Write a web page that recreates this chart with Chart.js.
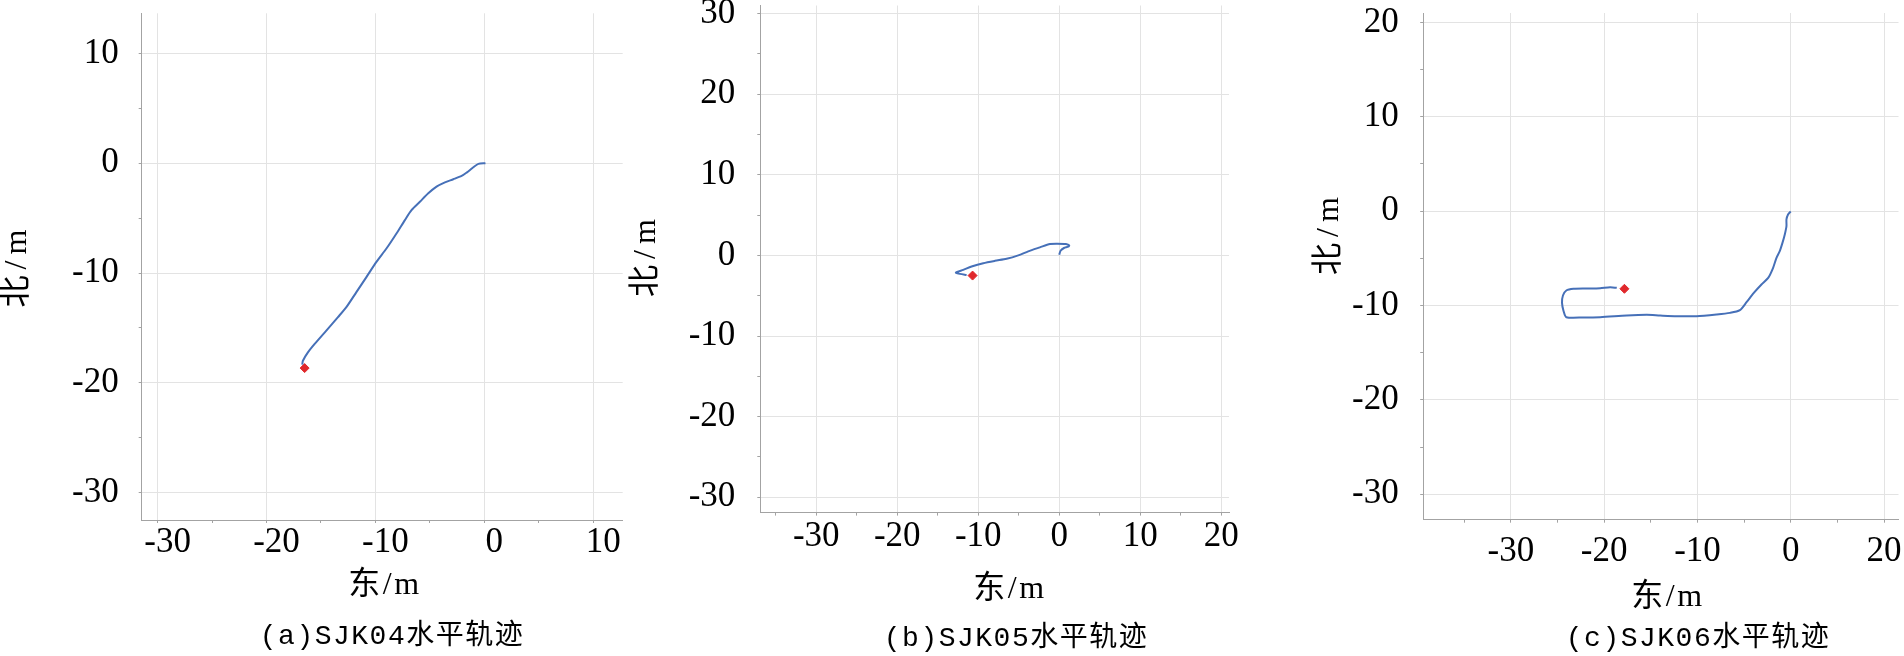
<!DOCTYPE html>
<html>
<head>
<meta charset="utf-8">
<script src="https://cdn.jsdelivr.net/npm/chart.js@4.4.1/dist/chart.umd.min.js"></script>
<style>
    html, body { margin: 0; padding: 0; background: #fff; }
    #wrap { position: relative; width: 1904px; height: 656px; overflow: hidden; }
    canvas { position: absolute; left: 0; top: 0; }
</style>
</head>
<body>
<div id="wrap">
    <canvas id="panelA" width="1904" height="656"></canvas>
    <canvas id="panelB" width="1904" height="656"></canvas>
    <canvas id="panelC" width="1904" height="656"></canvas>
</div>
<script>
// ========================================
// DATA (east / north in metres)
// ========================================
const trackAEast  = [0.1, -0.55, -1.01, -1.63, -2.09, -2.85, -3.62, -4.39, -5.15, -5.92, -6.69, -7.30, -8.07, -8.99, -9.91, -10.83, -11.75, -12.67, -13.44, -14.51, -15.58, -16.20, -16.66, -16.72];
const trackANorth = [0, -0.06, -0.37, -0.85, -1.16, -1.46, -1.74, -2.13, -2.74, -3.51, -4.27, -5.18, -6.40, -7.77, -8.99, -10.37, -11.74, -13.11, -14.02, -15.24, -16.46, -17.23, -17.99, -18.35];
const endA = [-16.5, -18.66];

const trackBEast  = [0, 0.16, 0.58, 1.11, 1.23, 0.82, -0.25, -1.15, -2.39, -3.83, -5.06, -6.50, -7.94, -9.38, -10.82, -11.85, -12.76, -12.26, -11.44];
const trackBNorth = [0.08, 0.58, 0.92, 1.08, 1.25, 1.42, 1.46, 1.42, 1.00, 0.50, 0, -0.42, -0.67, -0.96, -1.38, -1.79, -2.13, -2.29, -2.42];
const endB = [-10.7, -2.5];

const trackCEast  = [0, -0.29, -0.46, -0.46, -0.64, -0.89, -1.18, -1.53, -1.89, -2.42, -3.14, -3.96, -4.74, -5.45, -6.52, -7.95, -10.09, -12.23, -14.00, -15.44, -17.58, -20.43, -22.21, -24.06, -24.35, -24.52, -24.42, -24.06, -23.28, -21.85, -20.43, -19.36, -18.65];
const trackCNorth = [-0.04, -0.35, -0.88, -1.59, -2.47, -3.36, -4.24, -4.95, -6.00, -7.07, -7.77, -8.66, -9.65, -10.49, -10.78, -10.95, -11.13, -11.13, -11.06, -10.99, -11.06, -11.24, -11.27, -11.24, -10.60, -9.72, -8.94, -8.41, -8.23, -8.20, -8.16, -8.06, -8.13];
const endC = [-17.83, -8.23];

// major ticks and their labels
const xTicksA = [-30, -20, -10, 0, 10];
const xLabelsA = ['-30', '-20', '-10', '0', '10'];
const yTicksA = [-30, -20, -10, 0, 10];
const yLabelsA = ['-30', '-20', '-10', '0', '10'];

const xTicksB = [-30, -20, -10, 0, 10, 20];
const xLabelsB = ['-30', '-20', '-10', '0', '10', '20'];
const yTicksB = [-30, -20, -10, 0, 10, 20, 30];
const yLabelsB = ['-30', '-20', '-10', '0', '10', '20', '30'];

const xTicksC = [-30, -20, -10, 0, 10];
const xLabelsC = ['-30', '-20', '-10', '0', '20'];
const yTicksC = [-30, -20, -10, 0, 10, 20];
const yLabelsC = ['-30', '-20', '-10', '0', '10', '20'];

const xTitle = '东/m';
const yTitle = '北/m';
const captions = ['(a)SJK04水平轨迹', '(b)SJK05水平轨迹', '(c)SJK06水平轨迹'];

// ========================================
// STYLE
// ========================================
const LINE_COLOR = '#4670b8';
const END_COLOR = '#e0282c';
const GRID_COLOR = '#e3e3e3';
const AXIS_COLOR = '#a3a3a3';
const TICK_FONT = { family: '"Liberation Serif", "Times New Roman", serif', size: 35 };
const TITLE_FONT = '32px "Liberation Serif", "Noto Sans CJK SC"';
const CAPTION_FONT = '28px "Liberation Mono", "Noto Sans CJK SC"';
const Y_SCALE_WIDTH = 100;
const X_SCALE_HEIGHT = 60;

// draws axis titles and caption at fixed page positions
const panelText = {
    id: 'panelText',
    afterDraw(chart, args, opts) {
        const ctx = chart.ctx;
        ctx.save();
        ctx.fillStyle = '#000';
        ctx.textAlign = 'center';
        ctx.textBaseline = 'middle';
        opts.items.forEach(item => {
            ctx.save();
            ctx.font = item.font;
            if ('letterSpacing' in ctx) ctx.letterSpacing = item.spacing || '0px';
            ctx.translate(item.x, item.y);
            if (item.rotate) ctx.rotate(item.rotate);
            ctx.fillText(item.text, 0, 0);
            ctx.restore();
        });
        ctx.restore();
    }
};

function toPoints(east, north) {
    return east.map((e, i) => ({ x: e, y: north[i] }));
}

function findTick(list, value) {
    return list.findIndex(t => Math.abs(t - value) < 1e-6);
}

function makeScale(ticksList, labels, range, opts) {
    return {
        type: 'linear',
        min: range[0],
        max: range[1],
        afterFit(scale) {
            if (scale.isHorizontal()) scale.height = X_SCALE_HEIGHT; else scale.width = Y_SCALE_WIDTH;
            scale.paddingLeft = 0;
            scale.paddingRight = 0;
            scale.paddingTop = 0;
            scale.paddingBottom = 0;
        },
        border: { display: true, color: AXIS_COLOR, width: 1 },
        grid: {
            color: (c) => findTick(ticksList, c.tick.value) >= 0 ? GRID_COLOR : 'rgba(0,0,0,0)',
            tickColor: AXIS_COLOR,
            tickLength: 3,
            lineWidth: 1
        },
        ticks: {
            stepSize: 5,
            includeBounds: false,
            autoSkip: false,
            maxRotation: 0,
            color: '#000',
            font: TICK_FONT,
            padding: opts.padding,
            labelOffset: opts.labelOffset || 0,
            callback: (value) => {
                const i = findTick(ticksList, value);
                return i >= 0 ? labels[i] : '';
            }
        }
    };
}

function createPanel(id, p) {
    const a = p.area;
    new Chart(document.getElementById(id), {
        type: 'scatter',
        data: {
            datasets: [
                {
                    data: toPoints(p.east, p.north),
                    showLine: true,
                    borderColor: LINE_COLOR,
                    borderWidth: 2,
                    pointRadius: 0,
                    tension: 0.25
                },
                {
                    data: [{ x: p.end[0], y: p.end[1] }],
                    pointStyle: 'rectRot',
                    pointRadius: 4.5,
                    backgroundColor: END_COLOR,
                    borderColor: END_COLOR,
                    borderWidth: 1
                }
            ]
        },
        options: {
            responsive: false,
            animation: false,
            events: [],
            layout: {
                padding: {
                    left: a.left - Y_SCALE_WIDTH,
                    right: 1904 - a.right,
                    top: a.top,
                    bottom: 656 - a.bottom - X_SCALE_HEIGHT
                }
            },
            plugins: {
                legend: { display: false },
                tooltip: { enabled: false },
                panelText: { items: p.texts }
            },
            scales: {
                x: makeScale(p.xTicks, p.xLabels, p.xRange, p.xOpts),
                y: makeScale(p.yTicks, p.yLabels, p.yRange, p.yOpts)
            }
        },
        plugins: [panelText]
    });
}

// ========================================
// PANELS
// ========================================
createPanel('panelA', {
    east: trackAEast, north: trackANorth, end: endA,
    xTicks: xTicksA, xLabels: xLabelsA, yTicks: yTicksA, yLabels: yLabelsA,
    xRange: [-31.46, 12.7], yRange: [-32.5, 13.66],
    xOpts: { padding: -1, labelOffset: 10 }, yOpts: { padding: 20 },
    area: { left: 141.7, right: 622.7, top: 13.3, bottom: 520 },
    texts: [
        { text: yTitle, x: 18, y: 265.5, rotate: -Math.PI / 2, font: TITLE_FONT, spacing: '6px' },
        { text: xTitle, x: 385, y: 586, font: TITLE_FONT, spacing: '2.5px' },
        { text: captions[0], x: 392, y: 637, font: CAPTION_FONT, spacing: '1.5px' }
    ]
});

createPanel('panelB', {
    east: trackBEast, north: trackBNorth, end: endB,
    xTicks: xTicksB, xLabels: xLabelsB, yTicks: yTicksB, yLabels: yLabelsB,
    xRange: [-36.9, 20.95], yRange: [-31.9, 31.0],
    xOpts: { padding: 0 }, yOpts: { padding: 22 },
    area: { left: 760.3, right: 1229, top: 3.3, bottom: 512.6 },
    texts: [
        { text: yTitle, x: 647, y: 255, rotate: -Math.PI / 2, font: TITLE_FONT, spacing: '6px' },
        { text: xTitle, x: 1010, y: 590, font: TITLE_FONT, spacing: '2.5px' },
        { text: captions[1], x: 1016, y: 639, font: CAPTION_FONT, spacing: '1.5px' }
    ]
});

createPanel('panelC', {
    east: trackCEast, north: trackCNorth, end: endC,
    xTicks: xTicksC, xLabels: xLabelsC, yTicks: yTicksC, yLabels: yLabelsC,
    xRange: [-39.4, 11.55], yRange: [-32.7, 21.0],
    xOpts: { padding: 8 }, yOpts: { padding: 21.5 },
    area: { left: 1423.2, right: 1899, top: 13, bottom: 519.7 },
    texts: [
        { text: yTitle, x: 1330, y: 233, rotate: -Math.PI / 2, font: TITLE_FONT, spacing: '6px' },
        { text: xTitle, x: 1668, y: 598, font: TITLE_FONT, spacing: '2.5px' },
        { text: captions[2], x: 1698, y: 639, font: CAPTION_FONT, spacing: '1.5px' }
    ]
});
</script>
</body>
</html>
